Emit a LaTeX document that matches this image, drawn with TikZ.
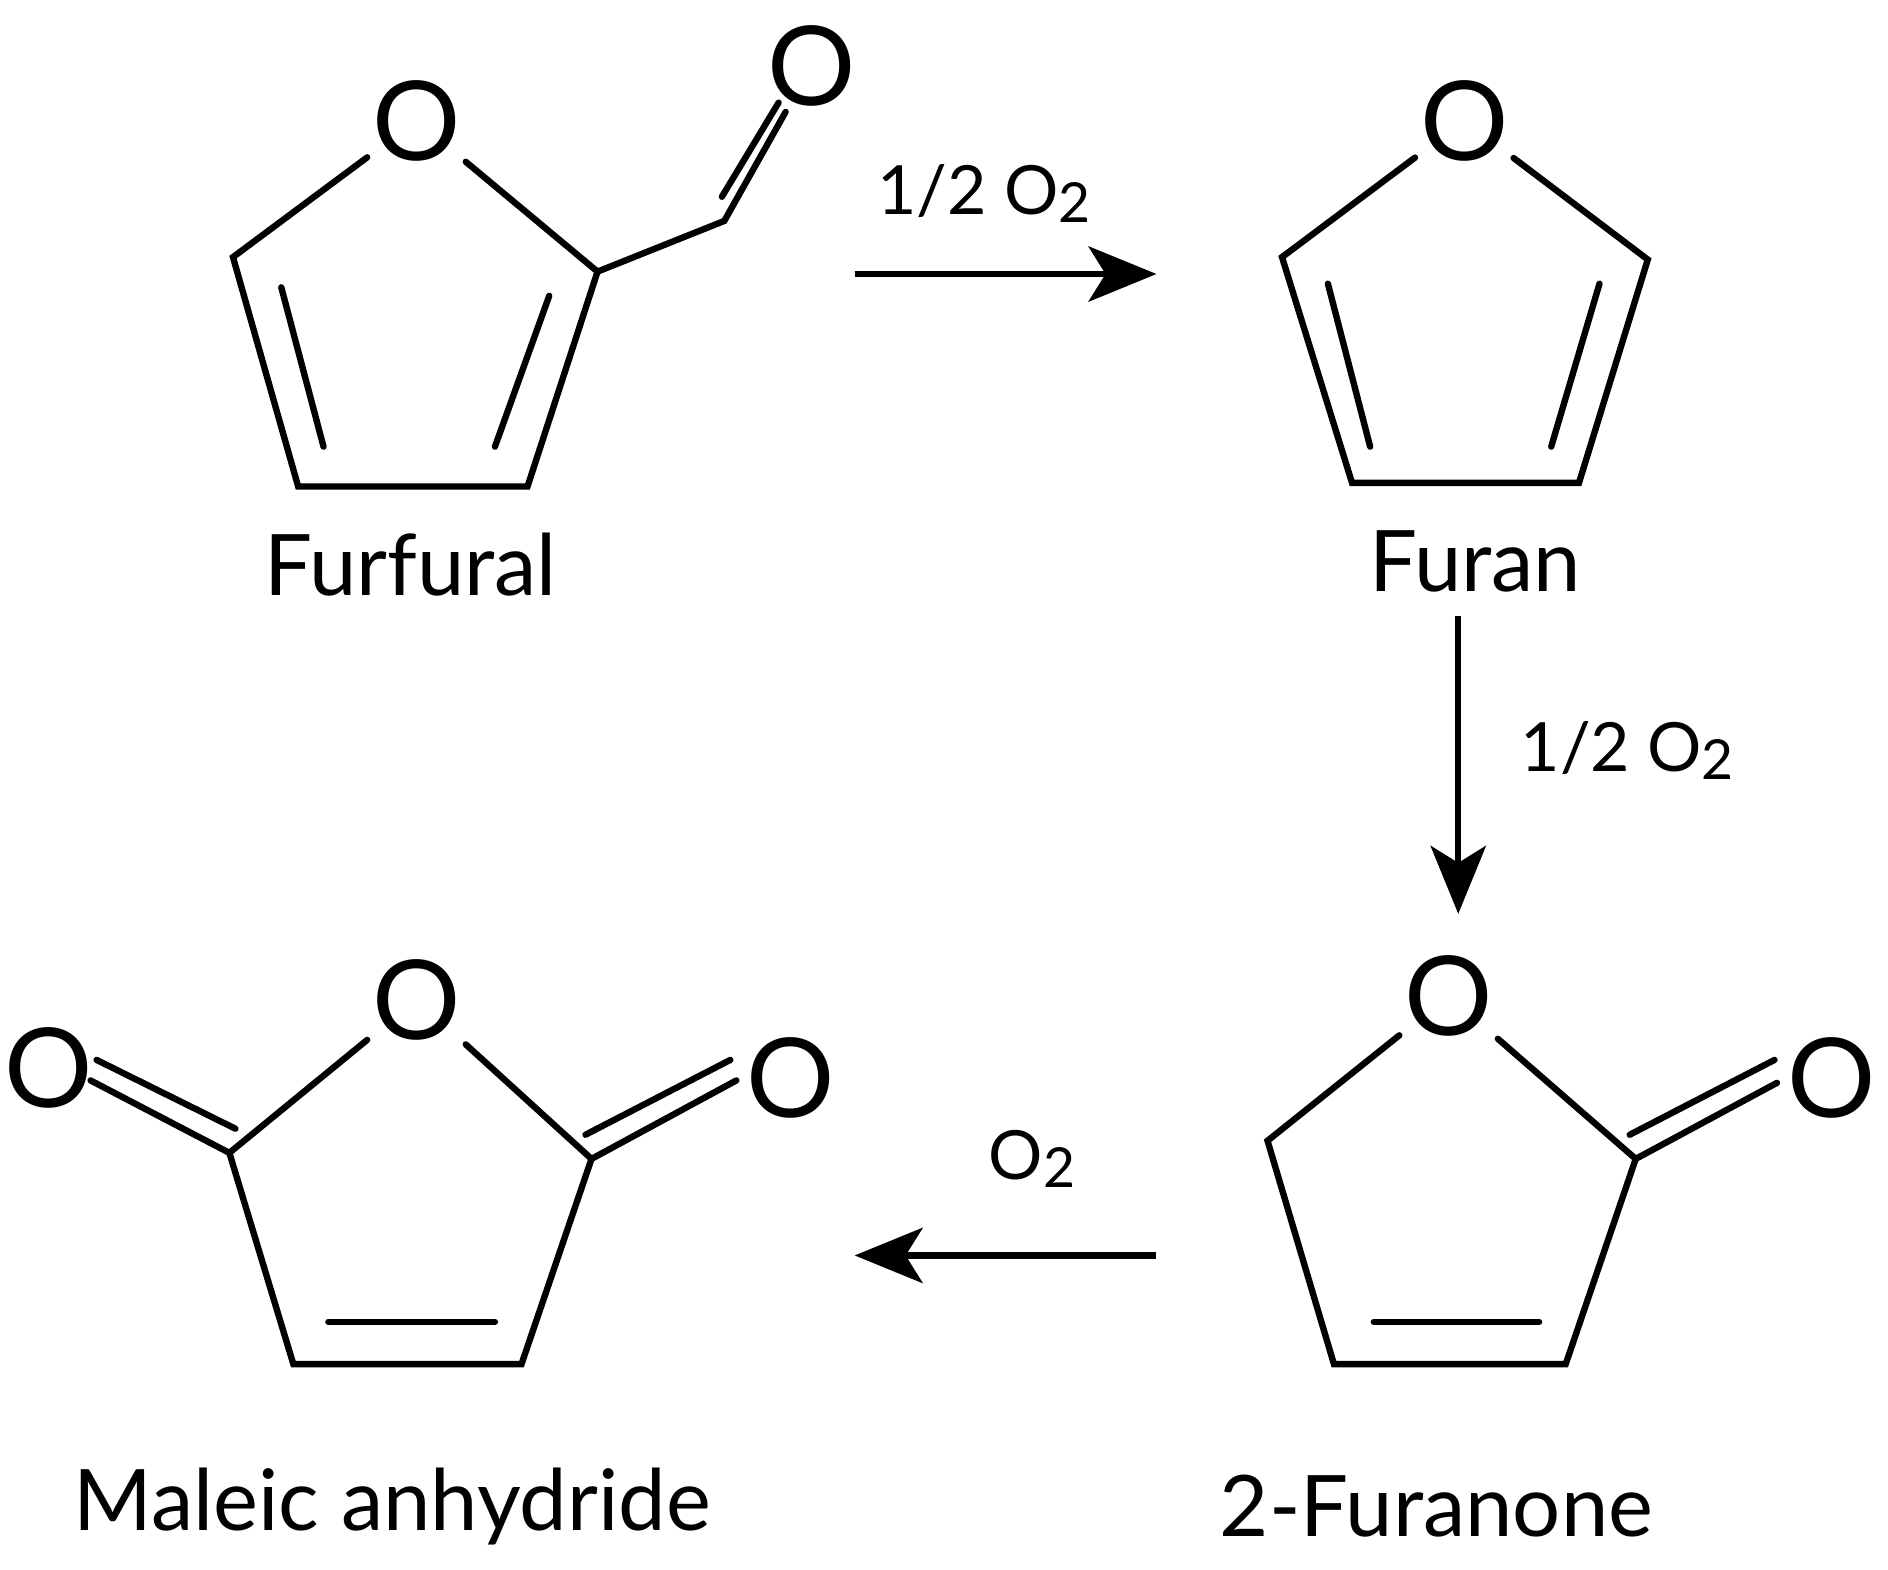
\documentclass[tikz,border=0pt]{standalone}
\usepackage{fontspec}
\setmainfont{Lato}
\usetikzlibrary{arrows.meta}
\newcommand{\subtwo}{\raisebox{-0.12em}{\fontsize{13}{13}\selectfont 2}}
\begin{document}
\begin{tikzpicture}[x=0.01cm,y=-0.01cm,
  bond/.style={line width=1.5pt,line cap=round,line join=miter},
  atom/.style={font=\fontsize{26}{26}\selectfont,inner sep=1pt},
  molname/.style={font=\fontsize{20}{20}\selectfont},
  cond/.style={font=\fontsize{16}{16}\selectfont},
  rxn/.style={line width=1.5pt,-{Stealth[length=16pt,width=13pt,inset=4pt]}}]
\useasboundingbox (0,0) rectangle (1564,1300);
% Furfural
\node[atom] (fO) at (345,100) {O};
\coordinate (f2) at (495,225); \coordinate (f3) at (437,403);
\coordinate (f4) at (247,403); \coordinate (f5) at (193,213);
\coordinate (fc) at (600,183);
\node[atom] (fO2) at (672,55) {O};
\draw[bond] (fO) -- (f5) -- (f4) -- (f3) -- (f2) -- (fO);
\draw[bond] (233,238) -- (268,370);
\draw[bond] (410,370) -- (455,245);
\draw[bond] (f2) -- (fc) -- (fO2);
\draw[bond] (598,163) -- (645,85);
\node[molname] (nf) at (340,468) {Furfural};
% Furan
\node[atom] (uO) at (1213,100) {O};
\coordinate (u2) at (1365,215); \coordinate (u3) at (1308,400);
\coordinate (u4) at (1120,400); \coordinate (u5) at (1062,213);
\draw[bond] (uO) -- (u5) -- (u4) -- (u3) -- (u2) -- (uO);
\draw[bond] (1100,235) -- (1135,370);
\draw[bond] (1285,370) -- (1325,235);
\node[molname] (nu) at (1222,465) {Furan};
% 2-Furanone
\node[atom] (aO) at (1200,825) {O};
\coordinate (a2) at (1355,960); \coordinate (a3) at (1297,1130);
\coordinate (a4) at (1105,1130); \coordinate (a5) at (1050,945);
\node[atom] (aO2) at (1517,893) {O};
\draw[bond] (aO) -- (a5) -- (a4) -- (a3) -- (a2) -- (aO);
\draw[bond] (1138,1095) -- (1275,1095);
\draw[bond] (a2) -- (1472,897);
\draw[bond] (1350,940) -- (1470,878);
\node[molname] (na) at (1190,1248) {2-Furanone};
% Maleic anhydride
\node[atom] (mO) at (345,828) {O};
\coordinate (m2) at (490,960); \coordinate (m3) at (432,1130);
\coordinate (m4) at (243,1130); \coordinate (m5) at (190,955);
\node[atom] (mL) at (40,885) {O};
\node[atom] (mR) at (655,893) {O};
\draw[bond] (mO) -- (m5) -- (m4) -- (m3) -- (m2) -- (mO);
\draw[bond] (272,1095) -- (410,1095);
\draw[bond] (m2) -- (610,895);
\draw[bond] (485,940) -- (605,878);
\draw[bond] (m5) -- (75,895);
\draw[bond] (195,935) -- (80,878);
\node[molname] (nm) at (325,1248) {Maleic anhydride};
% arrows
\coordinate (r1a) at (708,227); \coordinate (r1b) at (958,227);
\draw[rxn] (r1a) -- (r1b);
\node[cond] at (815,160) {1/2 O\subtwo};
\coordinate (r2a) at (1208,510); \coordinate (r2b) at (1208,757);
\draw[rxn] (r2a) -- (r2b);
\node[cond] at (1348,622) {1/2 O\subtwo};
\coordinate (r3a) at (958,1040); \coordinate (r3b) at (708,1040);
\draw[rxn] (r3a) -- (r3b);
\node[cond] at (855,960) {O\subtwo};
\end{tikzpicture}
\end{document}
